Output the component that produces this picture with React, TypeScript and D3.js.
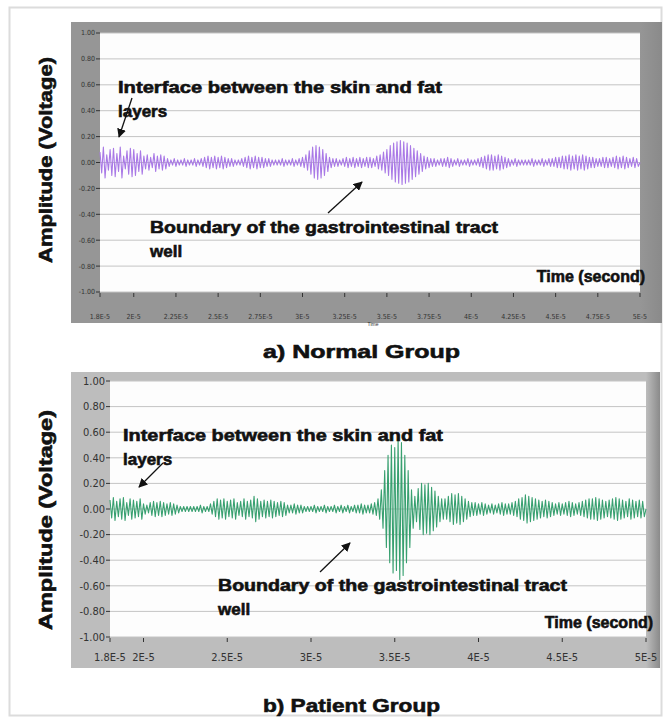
import React from "react";
import * as d3 from "d3";

// peak amplitude (V) of each oscillation cycle, one cycle = 2E-7 s, starting at 1.8E-5 s
const normalAmp = [
  0.08, 0.12, 0.06, 0.1, 0.11, 0.07, 0.12, 0.05, 0.09, 0.11,
  0.1, 0.07, 0.09, 0.05, 0.06, 0.04, 0.07, 0.05, 0.06, 0.05,
  0.03, 0.02, 0.03, 0.02, 0.02, 0.03, 0.02, 0.02, 0.03, 0.02,
  0.03, 0.04, 0.05, 0.04, 0.05, 0.04, 0.05, 0.04, 0.03, 0.03,
  0.02, 0.02, 0.03, 0.04, 0.05, 0.04, 0.05, 0.04, 0.04, 0.03,
  0.03, 0.02, 0.02, 0.02, 0.03, 0.02, 0.02, 0.03, 0.02, 0.03,
  0.04, 0.06, 0.09, 0.12, 0.13, 0.12, 0.1, 0.07, 0.04, 0.03,
  0.03, 0.02, 0.03, 0.04, 0.03, 0.04, 0.03, 0.04, 0.03, 0.04,
  0.04, 0.03, 0.05, 0.06, 0.08, 0.1, 0.13, 0.15, 0.16, 0.17,
  0.16, 0.15, 0.13, 0.11, 0.09, 0.07, 0.05, 0.04, 0.03, 0.03,
  0.02, 0.03, 0.03, 0.04, 0.03, 0.02, 0.03, 0.02, 0.02, 0.03,
  0.02, 0.02, 0.03, 0.04, 0.05, 0.06, 0.06, 0.05, 0.06, 0.05,
  0.04, 0.03, 0.02, 0.03, 0.02, 0.02, 0.02, 0.02, 0.03, 0.02,
  0.02, 0.03, 0.02, 0.03, 0.03, 0.04, 0.04, 0.05, 0.05, 0.06,
  0.05, 0.06, 0.05, 0.06, 0.05, 0.04, 0.04, 0.03, 0.03, 0.04,
  0.04, 0.03, 0.04, 0.05, 0.04, 0.05, 0.04, 0.03, 0.04, 0.03,
];

const patientAmp = [
  0.07, 0.09, 0.06, 0.08, 0.09, 0.05, 0.08, 0.07, 0.06, 0.08,
  0.04, 0.03, 0.05, 0.06, 0.05, 0.06, 0.05, 0.04, 0.05, 0.04,
  0.03, 0.02, 0.02, 0.02, 0.02, 0.02, 0.02, 0.03, 0.02, 0.02,
  0.04, 0.06, 0.08, 0.07, 0.08, 0.06, 0.07, 0.08, 0.05, 0.06,
  0.08, 0.06, 0.07, 0.1, 0.08, 0.06, 0.07, 0.06, 0.07, 0.06,
  0.05, 0.06, 0.05, 0.03, 0.03, 0.04, 0.03, 0.03, 0.02, 0.02,
  0.02, 0.03, 0.02, 0.02, 0.03, 0.02, 0.02, 0.03, 0.02, 0.03,
  0.02, 0.03, 0.02, 0.03, 0.03, 0.04, 0.03, 0.03, 0.04, 0.05,
  0.08, 0.15, 0.3, 0.42, 0.5, 0.48, 0.55, 0.52, 0.42, 0.3,
  0.15, 0.1, 0.16, 0.2, 0.19, 0.2, 0.17, 0.14, 0.1, 0.08,
  0.08, 0.1, 0.12, 0.11, 0.12, 0.1, 0.08, 0.06, 0.05, 0.05,
  0.04, 0.05, 0.04, 0.03, 0.04, 0.03, 0.04, 0.05, 0.04, 0.04,
  0.05, 0.06, 0.08, 0.09, 0.11, 0.1, 0.09, 0.08, 0.07, 0.06,
  0.07, 0.06, 0.05, 0.04, 0.05, 0.04, 0.05, 0.06, 0.05, 0.04,
  0.05, 0.06, 0.07, 0.08, 0.08, 0.09, 0.08, 0.07, 0.06, 0.07,
  0.08, 0.09, 0.08, 0.07, 0.06, 0.08, 0.07, 0.06, 0.07, 0.06,
];

const yTicks = [1, 0.8, 0.6, 0.4, 0.2, 0, -0.2, -0.4, -0.6, -0.8, -1];

const normalXTicks = [1.8e-5, 2e-5, 2.25e-5, 2.5e-5, 2.75e-5, 3e-5, 3.25e-5, 3.5e-5, 3.75e-5, 4e-5, 4.25e-5, 4.5e-5, 4.75e-5, 5e-5];
const normalXLabels = ["1.8E-5", "2E-5", "2.25E-5", "2.5E-5", "2.75E-5", "3E-5", "3.25E-5", "3.5E-5", "3.75E-5", "4E-5", "4.25E-5", "4.5E-5", "4.75E-5", "5E-5"];

const patientXTicks = [1.8e-5, 2e-5, 2.5e-5, 3e-5, 3.5e-5, 4e-5, 4.5e-5, 5e-5];
const patientXLabels = ["1.8E-5", "2E-5", "2.5E-5", "3E-5", "3.5E-5", "4E-5", "4.5E-5", "5E-5"];

const T0 = 1.8e-5;
const T1 = 5e-5;
const CYCLE = 2e-7;

const BOLD = "'Liberation Sans', Arial, sans-serif";
const TICKFONT = "'DejaVu Sans Condensed', 'DejaVu Sans', sans-serif";

type Note = { x: number; y: number; w: number; ax0: number; ay0: number; ax1: number; ay1: number };

type PanelProps = {
  id: string;
  amps: number[];
  color: string;
  frame: { x: number; y: number; w: number; h: number };
  plot: { x0: number; x1: number; y0: number; y1: number };
  frameFill: string;
  xTicks: number[];
  xLabels: string[];
  tickFont: number;
  xLabelY: number;
  title: string;
  titleY: number;
  titleX: number;
  titleW: number;
  yLabelCenter: number;
  yLabelLen: number;
  iface: Note;
  bound: Note;
  timeX: number;
  timeY: number;
  smallTime?: boolean;
};

function Panel(p: PanelProps) {
  const x = d3.scaleLinear().domain([T0, T1]).range([p.plot.x0, p.plot.x1]);
  const y = d3.scaleLinear().domain([-1, 1]).range([p.plot.y1, p.plot.y0]);

  // zigzag: each cycle goes up to +peak then down to -peak
  const pts: [number, number][] = [];
  p.amps.forEach((a, i) => {
    const t = T0 + i * CYCLE;
    pts.push([t, a]);
    pts.push([t + CYCLE / 2, -a]);
  });
  pts.push([T1, 0]);
  const line = d3
    .line<[number, number]>()
    .x((d) => x(d[0]))
    .y((d) => y(d[1]));

  const f = p.frame;
  const arrow = (a: Note) => (
    <line x1={a.ax0} y1={a.ay0} x2={a.ax1} y2={a.ay1} stroke="#111" strokeWidth={1.3} markerEnd={`url(#head-${p.id})`} />
  );
  const heavy = { stroke: "#111", strokeWidth: 0.6 };

  return (
    <g>
      <defs>
        <marker id={`head-${p.id}`} viewBox="0 0 10 10" refX="9" refY="5" markerWidth="7" markerHeight="7" orient="auto">
          <path d="M0,0 L10,5 L0,10 z" fill="#111" />
        </marker>
        <linearGradient id={`edge-${p.id}`} x1="0" x2="1" y1="0" y2="0">
          <stop offset="0" stopColor={p.frameFill} />
          <stop offset="1" stopColor="#8a8a8a" />
        </linearGradient>
      </defs>
      <rect x={f.x} y={f.y} width={f.w} height={f.h} fill={p.frameFill} />
      <rect x={p.plot.x1} y={f.y} width={f.x + f.w - p.plot.x1} height={f.h} fill={`url(#edge-${p.id})`} />
      <rect x={p.plot.x0} y={p.plot.y0} width={p.plot.x1 - p.plot.x0} height={p.plot.y1 - p.plot.y0} fill="#fdfdfd" />
      {yTicks.map((v) => (
        <g key={v}>
          <line x1={p.plot.x0} x2={p.plot.x1} y1={y(v)} y2={y(v)} stroke="#c4c4c4" strokeWidth={1} />
          <line x1={p.plot.x0 - 4} x2={p.plot.x0} y1={y(v)} y2={y(v)} stroke="#333" strokeWidth={1} />
          <text x={p.plot.x0 - 5} y={y(v)} dy="0.35em" textAnchor="end" fontSize={p.tickFont} fill="#333" fontFamily={TICKFONT}>
            {v.toFixed(2)}
          </text>
        </g>
      ))}
      {p.xTicks.map((v, i) => (
        <g key={v}>
          <line x1={x(v)} x2={x(v)} y1={p.plot.y1 + 1} y2={p.plot.y1 + 5} stroke="#333" strokeWidth={1} />
          <text x={x(v)} y={p.xLabelY} textAnchor="middle" fontSize={p.tickFont} fill="#333" fontFamily={TICKFONT}>
            {p.xLabels[i]}
          </text>
        </g>
      ))}
      {p.smallTime && (
        <text x={373} y={326} fontSize={5} fill="#333" textAnchor="middle" fontFamily="sans-serif">
          Time
        </text>
      )}
      <path d={line(pts) ?? ""} fill="none" stroke={p.color} strokeWidth={1.1} strokeLinejoin="round" />

      <g fontFamily={BOLD} fontWeight="bold" fill="#111" fontSize={17} {...heavy}>
        <text x={p.iface.x} y={p.iface.y} textLength={p.iface.w} lengthAdjust="spacingAndGlyphs">
          Interface between the skin and fat
        </text>
        <text x={p.iface.x} y={p.iface.y + 24}>layers</text>
        <text x={p.bound.x} y={p.bound.y} textLength={p.bound.w} lengthAdjust="spacingAndGlyphs">
          Boundary of the gastrointestinal tract
        </text>
        <text x={p.bound.x} y={p.bound.y + 24}>well</text>
        <text x={p.timeX} y={p.timeY} textAnchor="end" fontSize={16}>
          Time (second)
        </text>
      </g>
      {arrow(p.iface)}
      {arrow(p.bound)}

      <text
        transform={`translate(52,${p.yLabelCenter}) rotate(-90)`}
        textAnchor="middle"
        fontFamily={BOLD}
        fontWeight="bold"
        fontSize={18}
        fill="#111"
        {...heavy}
        textLength={p.yLabelLen}
        lengthAdjust="spacingAndGlyphs"
      >
        Amplitude (Voltage)
      </text>
      <text
        x={p.titleX}
        y={p.titleY}
        fontFamily={BOLD}
        fontWeight="bold"
        fontSize={19}
        fill="#111"
        {...heavy}
        textLength={p.titleW}
        lengthAdjust="spacingAndGlyphs"
      >
        {p.title}
      </text>
    </g>
  );
}

export default function App() {
  return (
    <svg width={664} height={720} style={{ position: "absolute", left: 0, top: 0, background: "#fff" }}>
      <rect x={9.5} y={7.5} width={652} height={708} fill="none" stroke="#dcdcdc" strokeWidth={2} />
      <Panel
        id="a"
        amps={normalAmp}
        color="#a979e6"
        frame={{ x: 71, y: 22, w: 591, h: 301 }}
        plot={{ x0: 100, x1: 640, y0: 33, y1: 292 }}
        frameFill="#969696"
        xTicks={normalXTicks}
        xLabels={normalXLabels}
        tickFont={7}
        xLabelY={319}
        title="a) Normal Group"
        titleX={263}
        titleY={358}
        titleW={197}
        yLabelCenter={160}
        yLabelLen={206}
        iface={{ x: 118, y: 93, w: 324, ax0: 132, ay0: 98, ax1: 119, ay1: 137 }}
        bound={{ x: 150, y: 233, w: 348, ax0: 328, ay0: 213, ax1: 362, ay1: 182 }}
        timeX={645}
        timeY={282}
        smallTime
      />
      <Panel
        id="b"
        amps={patientAmp}
        color="#38a070"
        frame={{ x: 71, y: 372, w: 589, h: 296 }}
        plot={{ x0: 110, x1: 646, y0: 381, y1: 637 }}
        frameFill="#bdbdbd"
        xTicks={patientXTicks}
        xLabels={patientXLabels}
        tickFont={11}
        xLabelY={661}
        title="b) Patient Group"
        titleX={263}
        titleY={712}
        titleW={177}
        yLabelCenter={520}
        yLabelLen={220}
        iface={{ x: 123, y: 441, w: 320, ax0: 163, ay0: 463, ax1: 139, ay1: 487 }}
        bound={{ x: 218, y: 591, w: 349, ax0: 320, ay0: 572, ax1: 350, ay1: 543 }}
        timeX={653}
        timeY={628}
      />
    </svg>
  );
}
